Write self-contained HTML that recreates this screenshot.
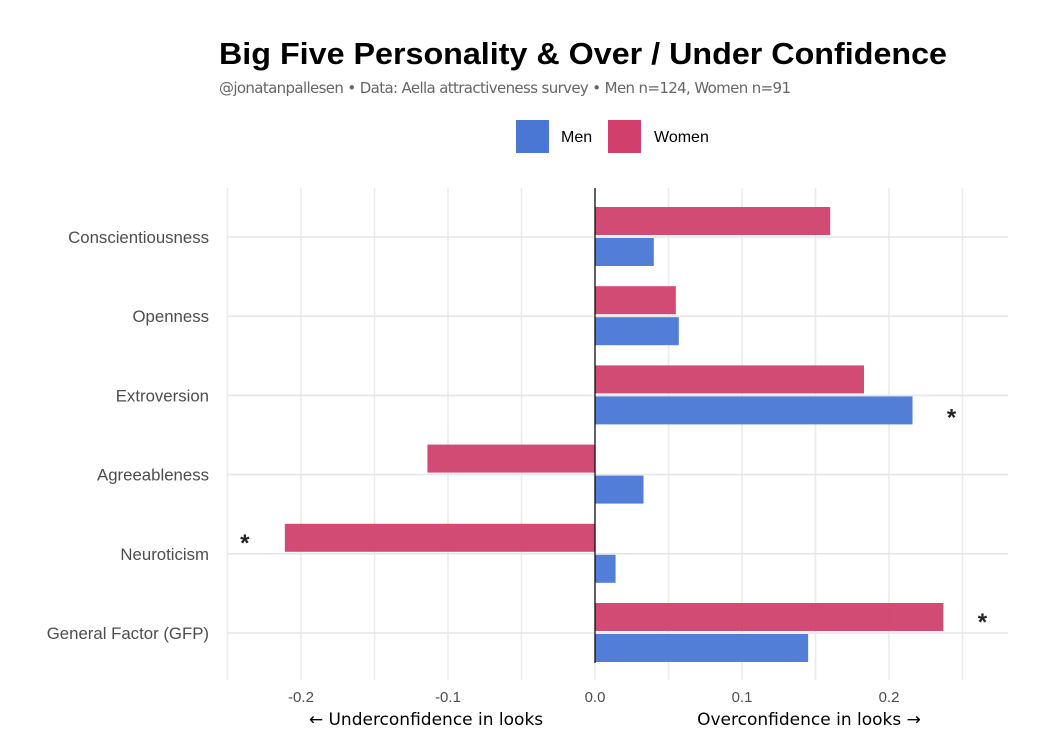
<!DOCTYPE html>
<html><head><meta charset="utf-8"><style>
body{margin:0;background:#fff;font-family:"Liberation Sans",sans-serif;}
svg text{font-family:"Liberation Sans",sans-serif;}
</style></head><body>
<svg id="chart" width="1050" height="750">
<text x="219" y="64" font-size="31" font-weight="bold" fill="#000" textLength="728" lengthAdjust="spacingAndGlyphs">Big Five Personality &amp; Over / Under Confidence</text>
<text x="219" y="93" font-size="15" fill="#666" font-family="DejaVu Sans" style="font-family:'DejaVu Sans',sans-serif" textLength="572">@jonatanpallesen • Data: Aella attractiveness survey • Men n=124, Women n=91</text>
<g>
<rect x="516" y="120" width="33" height="33" fill="#4a77d4"/>
<text x="561" y="142" font-size="16" fill="#000">Men</text>
<rect x="608" y="120" width="33" height="33" fill="#d13f6c"/>
<text x="654" y="142" font-size="16" fill="#000">Women</text>
</g>
<g id="plot"></g>
</svg>
<script>
const categories=["Conscientiousness","Openness","Extroversion","Agreeableness","Neuroticism","General Factor (GFP)"];
const menValues=[0.040,0.057,0.216,0.033,0.014,0.145];
const womenValues=[0.160,0.055,0.183,-0.114,-0.211,0.237];
const menSig=[false,false,true,false,false,false];
const womenSig=[false,false,false,false,true,true];
const tickValues=[-0.2,-0.1,0,0.1,0.2];
const tickLabels=["-0.2","-0.1","0.0","0.1","0.2"];
const NS="http://www.w3.org/2000/svg";
const g=document.getElementById('plot');
const x=v=>595+v*1470;
const yc=i=>237+i*79.2;
function mk(t,a){const e=document.createElementNS(NS,t);for(const k in a)e.setAttribute(k,a[k]);g.appendChild(e);return e;}
for(let v=-0.25;v<=0.281;v+=0.05){
 const gl=mk('line',{x1:x(v),x2:x(v),y1:188,y2:680,stroke:'#ebebeb','stroke-width':1.6});
 
 
}
categories.forEach((c,i)=>{
 const l=mk('line',{x1:228,x2:1008,y1:yc(i),y2:yc(i),stroke:'#e6e6e6','stroke-width':1.6});
 
 
 const t=mk('text',{x:209,y:yc(i)+6,'font-size':16.8,fill:'#4d4d4d','text-anchor':'end'});
 t.textContent=c;
 
 
 const w=womenValues[i],m=menValues[i];
 const wb=mk('rect',{x:Math.min(x(0),x(w)),y:yc(i)-30,width:Math.abs(x(w)-x(0)),height:28,fill:'#cf3d6b','fill-opacity':0.93});
 
 
 const mb=mk('rect',{x:Math.min(x(0),x(m)),y:yc(i)+1,width:Math.abs(x(m)-x(0)),height:28,fill:'#4574d4','fill-opacity':0.93});
 
 
 if(womenSig[i]){const s=mk('text',{x:x(w)+(w<0?-40:39),y:yc(i)-3,'font-size':24,'font-weight':'bold',fill:'#222','text-anchor':'middle'});s.textContent='*';
  
  }
 if(menSig[i]){const s=mk('text',{x:x(m)+39,y:yc(i)+30,'font-size':24,'font-weight':'bold',fill:'#222','text-anchor':'middle'});s.textContent='*';
  
  }
});
const zl=mk('line',{x1:x(0),x2:x(0),y1:188,y2:663,stroke:'#000','stroke-width':1.2});


tickValues.forEach((v,i)=>{
 const t=mk('text',{x:x(v),y:702,'font-size':15,fill:'#4d4d4d','text-anchor':'middle'});
 t.textContent=tickLabels[i];
 
 
});
const a1=mk('text',{x:426,y:725,'font-size':17,fill:'#000','text-anchor':'middle',style:"font-family:'DejaVu Sans',sans-serif"});
a1.textContent='← Underconfidence in looks';


const a2=mk('text',{x:809,y:725,'font-size':17,fill:'#000','text-anchor':'middle',style:"font-family:'DejaVu Sans',sans-serif"});
a2.textContent='Overconfidence in looks →';


</script>
</body></html>
